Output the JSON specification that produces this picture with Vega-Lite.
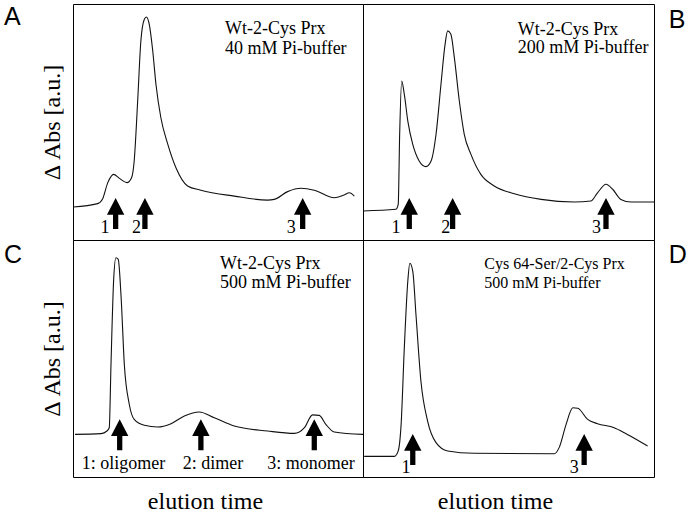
{
  "$schema": "https://vega.github.io/schema/vega-lite/v6.json",
  "padding": {"left": 3, "top": 3, "right": 0, "bottom": 0},
  "background": "white",
  "columns": 2,
  "spacing": 0,
  "bounds": "flush",
  "config": {
    "view": {"stroke": "black", "strokeWidth": 1},
    "axis": {"labels": false, "ticks": false, "domain": false, "grid": false, "minExtent": 0, "titleFont": "Liberation Serif", "titleFontSize": 24, "titleFontWeight": "normal", "titleColor": "black"},
    "text": {"font": "Liberation Serif", "fontSize": 18, "color": "black"},
    "line": {"color": "#111", "strokeWidth": 1.1, "interpolate": "monotone"}
  },
  "datasets": {
    "A": [{"t":0,"a":14.0},{"t":8.5,"a":15.4},{"t":10.2,"a":17.4},{"t":12.0,"a":24.3},{"t":14.0,"a":27.8},{"t":16.0,"a":26.1},{"t":18.6,"a":24.3},{"t":20.2,"a":26.4},{"t":21.1,"a":33.5},{"t":22.3,"a":58.9},{"t":23.4,"a":84.3},{"t":24.6,"a":93.5},{"t":25.3,"a":94.5},{"t":26.3,"a":91.4},{"t":27.5,"a":80.1},{"t":28.6,"a":66.0},{"t":30.3,"a":51.8},{"t":32.7,"a":40.5},{"t":35.5,"a":30.6},{"t":39.5,"a":22.9},{"t":44.1,"a":21.1},{"t":55.6,"a":18.6},{"t":67.1,"a":16.9},{"t":69.4,"a":17.2},{"t":74.0,"a":20.5},{"t":78.6,"a":21.9},{"t":83.2,"a":21.1},{"t":90.1,"a":17.9},{"t":93.5,"a":19.1},{"t":95.3,"a":20.0},{"t":97.0,"a":18.6}],
    "B": [{"t":0,"a":12.3},{"t":11.3,"a":13.0},{"t":12.1,"a":15.1},{"t":12.6,"a":44.8},{"t":13.3,"a":67.4},{"t":14.2,"a":61.7},{"t":15.4,"a":50.4},{"t":17.1,"a":40.5},{"t":19.3,"a":33.5},{"t":21.6,"a":31.1},{"t":23.4,"a":33.5},{"t":25.1,"a":44.8},{"t":26.8,"a":66.0},{"t":28.2,"a":82.9},{"t":29.1,"a":88.6},{"t":30.2,"a":87.2},{"t":31.4,"a":77.2},{"t":33.1,"a":58.9},{"t":34.8,"a":44.8},{"t":37.1,"a":36.3},{"t":40.5,"a":27.8},{"t":45.1,"a":22.9},{"t":52.0,"a":19.6},{"t":61.2,"a":17.2},{"t":72.6,"a":16.1},{"t":78.3,"a":16.5},{"t":80.6,"a":20.0},{"t":83.5,"a":23.6},{"t":85.8,"a":21.5},{"t":88.6,"a":17.2},{"t":92.1,"a":16.1},{"t":100,"a":16.1}],
    "C": [{"t":0.7,"a":18.0},{"t":9.7,"a":18.3},{"t":11.7,"a":19.4},{"t":12.5,"a":20.8},{"t":13.1,"a":47.5},{"t":14.0,"a":82.7},{"t":14.8,"a":92.5},{"t":15.6,"a":91.8},{"t":16.6,"a":75.6},{"t":17.7,"a":47.5},{"t":19.4,"a":30.7},{"t":21.1,"a":24.3},{"t":24.6,"a":21.8},{"t":29.2,"a":21.1},{"t":33.8,"a":22.5},{"t":38.4,"a":25.7},{"t":43.5,"a":27.4},{"t":48.7,"a":25.0},{"t":55.6,"a":21.5},{"t":67.1,"a":19.4},{"t":76.3,"a":18.4},{"t":79.8,"a":20.8},{"t":82.6,"a":26.2},{"t":84.9,"a":26.0},{"t":87.2,"a":22.2},{"t":90.1,"a":19.0},{"t":100,"a":18.0}],
    "D": [{"t":0.4,"a":8.7},{"t":10.8,"a":8.7},{"t":12.1,"a":11.0},{"t":13.1,"a":22.2},{"t":14.2,"a":54.6},{"t":15.4,"a":82.7},{"t":16.1,"a":90.2},{"t":17.1,"a":86.9},{"t":18.2,"a":68.6},{"t":19.9,"a":40.5},{"t":22.2,"a":23.6},{"t":25.1,"a":14.5},{"t":29.1,"a":11.0},{"t":38.2,"a":10.0},{"t":65.7,"a":9.8},{"t":67.4,"a":12.4},{"t":69.8,"a":22.2},{"t":72.1,"a":29.2},{"t":73.8,"a":29.0},{"t":77.2,"a":24.3},{"t":80.6,"a":22.5},{"t":86.3,"a":20.8},{"t":89.8,"a":18.7},{"t":94.4,"a":15.5},{"t":97.8,"a":13.1}],
    "Aarr": [{"t":14.7,"a":11.2},{"t":24.8,"a":11.2},{"t":79.2,"a":11.2}],
    "Barr": [{"t":15.9,"a":11.2},{"t":30.8,"a":11.2},{"t":83.5,"a":11.2}],
    "Carr": [{"t":16.1,"a":17.8},{"t":44.1,"a":17.8},{"t":83.2,"a":17.8}],
    "Darr": [{"t":17.1,"a":11.6},{"t":76.0,"a":11.6}],
    "Anum": [{"t":11.0,"a":2.8,"label":"1"},{"t":21.9,"a":2.8,"label":"2"},{"t":75.3,"a":2.8,"label":"3"}],
    "Bnum": [{"t":11.3,"a":2.8,"label":"1"},{"t":28.4,"a":2.8,"label":"2"},{"t":80.2,"a":2.8,"label":"3"}],
    "Cnum": [{"t":17.4,"a":3.2,"label":"1: oligomer"},{"t":48.3,"a":3.2,"label":"2: dimer"},{"t":82.1,"a":3.2,"label":"3: monomer"}],
    "Dnum": [{"t":14.8,"a":1.8,"label":"1"},{"t":72.6,"a":1.8,"label":"3"}],
    "Atxt": [{"t":52.4,"a":87.1,"label":"Wt-2-Cys Prx"},{"t":52.4,"a":79.0,"label":"40 mM Pi-buffer"}],
    "Btxt": [{"t":53.2,"a":86.9,"label":"Wt-2-Cys Prx"},{"t":53.2,"a":79.1,"label":"200 mM Pi-buffer"}],
    "Ctxt": [{"t":50.7,"a":87.7,"label":"Wt-2-Cys Prx"},{"t":50.7,"a":79.6,"label":"500 mM Pi-buffer"}],
    "Dtxt": [{"t":41.7,"a":87.6,"label":"Cys 64-Ser/2-Cys Prx"},{"t":41.7,"a":79.9,"label":"500 mM Pi-buffer"}],
    "Alet": [{"t":-23.8,"a":91.1,"label":"A"}],
    "Blet": [{"t":105.1,"a":89.8,"label":"B"}],
    "Clet": [{"t":-23.8,"a":90.3,"label":"C"}],
    "Dlet": [{"t":105.1,"a":90.3,"label":"D"}]
  },
  "concat": [
    {
      "width": 290, "height": 236,
      "encoding": {
        "x": {"field": "t", "type": "quantitative", "scale": {"domain": [0, 100]}, "axis": null},
        "y": {"field": "a", "type": "quantitative", "scale": {"domain": [0, 100]}, "axis": {"title": "Δ Abs [a.u.]", "titlePadding": 9}}
      },
      "layer": [
        {"data": {"name": "A"}, "mark": {"type": "line"}},
        {"data": {"name": "Aarr"}, "mark": {"type": "point", "shape": "M0,-1L0.56,0.08L0.17,0.08L0.17,1L-0.17,1L-0.17,0.08L-0.56,0.08Z", "size": 961, "filled": true, "color": "black", "opacity": 1, "strokeWidth": 0}},
        {"data": {"name": "Anum"}, "mark": {"type": "text", "align": "center", "baseline": "alphabetic"}, "encoding": {"text": {"field": "label"}}},
        {"data": {"name": "Atxt"}, "mark": {"type": "text", "align": "left", "baseline": "alphabetic"}, "encoding": {"text": {"field": "label"}}},
        {"data": {"name": "Alet"}, "mark": {"type": "text", "align": "left", "baseline": "alphabetic", "font": "Liberation Sans", "fontSize": 25}, "encoding": {"text": {"field": "label"}}}
      ]
    },
    {
      "width": 291, "height": 236,
      "encoding": {
        "x": {"field": "t", "type": "quantitative", "scale": {"domain": [0, 100]}, "axis": null},
        "y": {"field": "a", "type": "quantitative", "scale": {"domain": [0, 100]}, "axis": null}
      },
      "layer": [
        {"data": {"name": "B"}, "mark": {"type": "line"}},
        {"data": {"name": "Barr"}, "mark": {"type": "point", "shape": "M0,-1L0.56,0.08L0.17,0.08L0.17,1L-0.17,1L-0.17,0.08L-0.56,0.08Z", "size": 961, "filled": true, "color": "black", "opacity": 1, "strokeWidth": 0}},
        {"data": {"name": "Bnum"}, "mark": {"type": "text", "align": "center", "baseline": "alphabetic"}, "encoding": {"text": {"field": "label"}}},
        {"data": {"name": "Btxt"}, "mark": {"type": "text", "align": "left", "baseline": "alphabetic"}, "encoding": {"text": {"field": "label"}}},
        {"data": {"name": "Blet"}, "mark": {"type": "text", "align": "left", "baseline": "alphabetic", "font": "Liberation Sans", "fontSize": 25}, "encoding": {"text": {"field": "label"}}}
      ]
    },
    {
      "width": 290, "height": 237,
      "encoding": {
        "x": {"field": "t", "type": "quantitative", "scale": {"domain": [0, 100]}, "axis": {"title": "elution time", "titlePadding": 12, "titleX": 132}},
        "y": {"field": "a", "type": "quantitative", "scale": {"domain": [0, 100]}, "axis": {"title": "Δ Abs [a.u.]", "titlePadding": 9}}
      },
      "layer": [
        {"data": {"name": "C"}, "mark": {"type": "line"}},
        {"data": {"name": "Carr"}, "mark": {"type": "point", "shape": "M0,-1L0.56,0.08L0.17,0.08L0.17,1L-0.17,1L-0.17,0.08L-0.56,0.08Z", "size": 961, "filled": true, "color": "black", "opacity": 1, "strokeWidth": 0}},
        {"data": {"name": "Cnum"}, "mark": {"type": "text", "align": "center", "baseline": "alphabetic"}, "encoding": {"text": {"field": "label"}}},
        {"data": {"name": "Ctxt"}, "mark": {"type": "text", "align": "left", "baseline": "alphabetic"}, "encoding": {"text": {"field": "label"}}},
        {"data": {"name": "Clet"}, "mark": {"type": "text", "align": "left", "baseline": "alphabetic", "font": "Liberation Sans", "fontSize": 25}, "encoding": {"text": {"field": "label"}}}
      ]
    },
    {
      "width": 291, "height": 237,
      "encoding": {
        "x": {"field": "t", "type": "quantitative", "scale": {"domain": [0, 100]}, "axis": {"title": "elution time", "titlePadding": 12, "titleX": 132}},
        "y": {"field": "a", "type": "quantitative", "scale": {"domain": [0, 100]}, "axis": null}
      },
      "layer": [
        {"data": {"name": "D"}, "mark": {"type": "line"}},
        {"data": {"name": "Darr"}, "mark": {"type": "point", "shape": "M0,-1L0.56,0.08L0.17,0.08L0.17,1L-0.17,1L-0.17,0.08L-0.56,0.08Z", "size": 961, "filled": true, "color": "black", "opacity": 1, "strokeWidth": 0}},
        {"data": {"name": "Dnum"}, "mark": {"type": "text", "align": "center", "baseline": "alphabetic"}, "encoding": {"text": {"field": "label"}}},
        {"data": {"name": "Dtxt"}, "mark": {"type": "text", "align": "left", "baseline": "alphabetic", "fontSize": 16}, "encoding": {"text": {"field": "label"}}},
        {"data": {"name": "Dlet"}, "mark": {"type": "text", "align": "left", "baseline": "alphabetic", "font": "Liberation Sans", "fontSize": 25}, "encoding": {"text": {"field": "label"}}}
      ]
    }
  ]
}
